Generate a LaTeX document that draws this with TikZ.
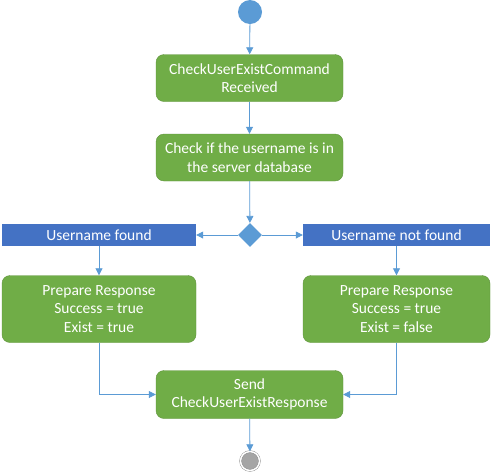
\documentclass[tikz,border=0pt]{standalone}
\usepackage{fontspec}
\setmainfont{Carlito}
\usepackage{tikz}
\usetikzlibrary{shapes.geometric, arrows.meta, positioning}
\definecolor{actgreen}{HTML}{70AD47}
\definecolor{barblue}{HTML}{4472C4}
\definecolor{lineblue}{HTML}{5B9BD5}
\definecolor{endgray}{HTML}{A5A5A5}

\begin{document}
\begin{tikzpicture}[x=1pt, y=-1pt,
font=\fontsize{15.5}{18.5}\selectfont,
activity/.style={draw=actgreen!85!black, line width=0.4pt, fill=actgreen, text=white, rounded corners=8pt, minimum width=187pt, minimum height=47pt, inner sep=0pt, align=center},
guard/.style={fill=barblue, text=white, minimum width=194pt, minimum height=22pt, inner sep=0pt},
flow/.style={draw=lineblue, line width=0.8pt, -{Triangle[width=7pt,length=7pt]}}
]
\useasboundingbox (0,0) rectangle (492,475);

% Start / Ende
\node[circle, fill=lineblue, minimum size=24pt, inner sep=0pt] (start) at (250,12) {};
\node[circle, fill=endgray, draw=endgray!80!black, double=white, double distance=1.5pt, minimum size=19pt, inner sep=0pt] (stop) at (250,461) {};

% Aktivitaeten
\node[activity] (recv) at (249.5,78) {CheckUserExistCommand\\Received};
\node[activity] (check) at (249.5,157.5) {Check if the username is in\\the server database};
\node[activity, minimum width=194pt, minimum height=67pt] (prepT) at (99,309) {Prepare Response\\Success = true\\Exist = true};
\node[activity, minimum width=187pt, minimum height=67pt] (prepF) at (396.5,309) {Prepare Response\\Success = true\\Exist = false};
\node[activity, minimum height=48pt] (send) at (249.5,394.5) {Send\\CheckUserExistResponse};

% Entscheidung
\node[diamond, fill=lineblue, minimum width=24pt, minimum height=24pt, inner sep=0pt] (dec) at (250,235) {};
\node[guard] (found) at (99,235) {Username found};
\node[guard, minimum width=187pt] (notfound) at (396.5,235) {Username not found};

% Verbindungen
\draw[flow] (start) -- (recv);
\draw[flow] (recv) -- (check);
\draw[flow] (check) -- (dec);
\draw[flow] (dec) -- (found);
\draw[flow] (dec) -- (notfound);
\draw[flow] (found) -- (prepT);
\draw[flow] (notfound) -- (prepF);
\draw[flow] (prepT.south) |- (send.west);
\draw[flow] (prepF.south) |- (send.east);
\draw[flow] (send) -- (stop);

\end{tikzpicture}
\end{document}
